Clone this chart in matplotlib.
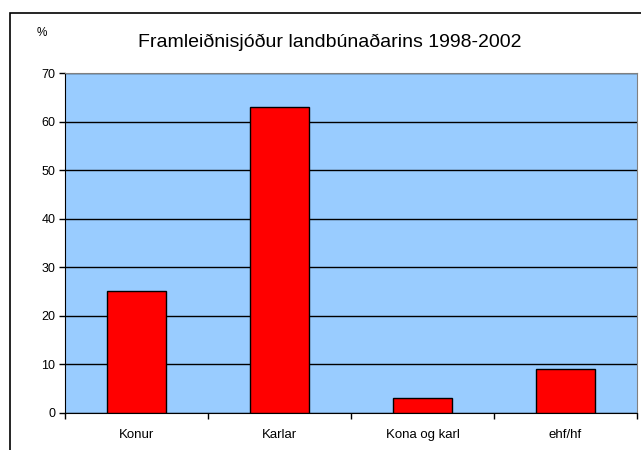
import matplotlib
matplotlib.use("Agg")
import matplotlib.pyplot as plt
import matplotlib.patches as mpatches
import numpy as np

plt.rcParams['font.family'] = ['Liberation Sans', 'DejaVu Sans']

categories = ["Konur", "Karlar", "Kona og karl", "ehf/hf"]
values = [25, 63, 3, 9]
yticks = [0, 10, 20, 30, 40, 50, 60, 70]

fig = plt.figure(figsize=(6.41, 4.5), dpi=100)
fig.patch.set_facecolor('white')

# outer chart frame (runs off the right and bottom edges)
frame = mpatches.Rectangle((10 / 641, -0.1), 1.0, 1.1 - 13 / 450,
                           transform=fig.transFigure, fill=False,
                           edgecolor='black', lw=1.2, clip_on=False)
fig.patches.append(frame)

ax = fig.add_axes([65 / 641, 1 - 412.7 / 450, 572 / 641, (412.7 - 73.3) / 450])
ax.set_facecolor('#99CCFF')

x = np.arange(len(categories))
ax.bar(x, values, width=0.41, color='#FF0000', edgecolor='black', lw=1, zorder=3)

ax.set_xlim(-0.5, len(categories) - 0.5)
ax.set_ylim(0, 70)
ax.set_yticks(yticks)
ax.set_yticklabels([str(v) for v in yticks], fontsize=9)
ax.yaxis.grid(True, color='black', lw=1)
ax.set_axisbelow(True)

# category labels between boundary ticks
ax.set_xticks(np.arange(len(categories) + 1) - 0.5)
ax.set_xticklabels([])
ax.set_xticks(x, minor=True)
ax.set_xticklabels(categories, minor=True, fontsize=9.5)
ax.tick_params(axis='x', which='minor', length=0, pad=12)
ax.tick_params(axis='x', which='major', direction='out', length=4, width=1)
ax.tick_params(axis='y', direction='out', length=4, width=1, pad=3)

ax.spines['top'].set_color('#808080')
ax.spines['right'].set_color('#808080')
ax.spines['left'].set_color('black')
ax.spines['bottom'].set_color('black')

fig.text(330 / 641, 1 - 42 / 450, "Framleiðnisjóður landbúnaðarins 1998-2002",
         ha='center', va='center', fontsize=14)
fig.text(42 / 641, 1 - 33 / 450, "%", ha='center', va='center', fontsize=8.5)

fig.savefig("out.png", dpi=100)
